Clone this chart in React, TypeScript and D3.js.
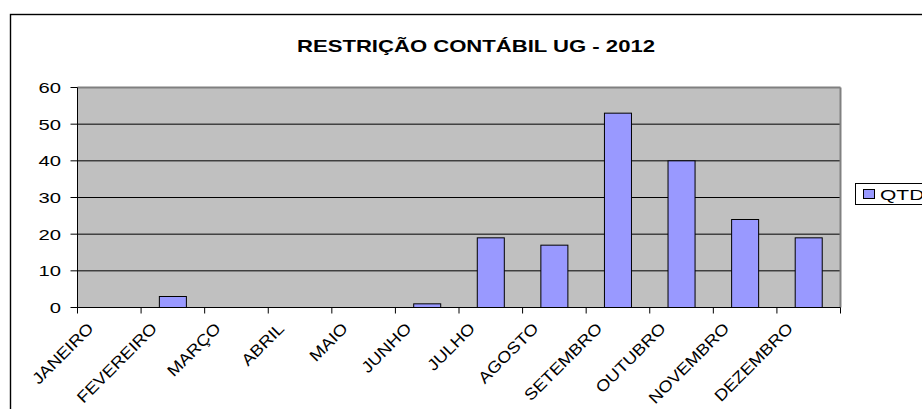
import React from "react";
import * as d3 from "d3";

const months = ["JANEIRO","FEVEREIRO","MARÇO","ABRIL","MAIO","JUNHO","JULHO","AGOSTO","SETEMBRO","OUTUBRO","NOVEMBRO","DEZEMBRO"];
const qtd = [0, 3, 0, 0, 0, 1, 19, 17, 53, 40, 24, 19];
const yTicks = [0, 10, 20, 30, 40, 50, 60];
const title = "RESTRIÇÃO CONTÁBIL UG - 2012";
const seriesName = "QTD";

const W = 922, H = 409;
const plotL = 77.5, plotR = 840.5, plotT = 87.5, plotB = 307.5;

export default function App() {
  const band = d3.scaleBand<string>().domain(months).range([plotL, plotR]).padding(0);
  const x = d3.scaleBand<string>().domain(months).range([plotL, plotR]).paddingInner(0.575).paddingOuter(0.2875);
  const y = d3.scaleLinear().domain([0, 60]).range([plotB, plotT]);
  const font = "'Liberation Sans', Arial, sans-serif";
  const boundaries = [...months.map((m) => band(m) as number), plotR];
  return (
    <svg width={W} height={H} style={{ position: "absolute", left: 0, top: 0 }} fontFamily={font}>
      <rect x={0} y={0} width={W} height={H} fill="#fff" />
      <rect x={10.5} y={14.5} width={1000} height={600} fill="#fff" stroke="#000" strokeWidth={1.4} />
      <text x={(297 + 655) / 2} y={51.5} textAnchor="middle" fontSize={17} fontWeight="bold" textLength={358} lengthAdjust="spacingAndGlyphs">{title}</text>
      <rect x={plotL} y={plotT} width={plotR - plotL} height={plotB - plotT} fill="#C0C0C0" />
      {yTicks.filter((t) => t > 0 && t < 60).map((t) => (
        <line key={t} x1={plotL} x2={plotR} y1={y(t)} y2={y(t)} stroke="#000" strokeWidth={1} />
      ))}
      <line x1={plotL} x2={plotR} y1={plotT} y2={plotT} stroke="#808080" strokeWidth={2} />
      <line x1={plotR} x2={plotR} y1={plotT} y2={plotB} stroke="#808080" strokeWidth={2} />
      {months.map((m, i) => (
        qtd[i] > 0 ? (
          <rect key={m} x={x(m)} y={y(qtd[i])} width={x.bandwidth()} height={y(0) - y(qtd[i])} fill="#9999FF" stroke="#000" strokeWidth={1} />
        ) : null
      ))}
      <line x1={plotL} x2={plotL} y1={plotT} y2={plotB} stroke="#000" strokeWidth={1} />
      <line x1={plotL} x2={plotR} y1={plotB} y2={plotB} stroke="#000" strokeWidth={1} />
      {yTicks.map((t) => (
        <g key={t}>
          <line x1={plotL - 7} x2={plotL} y1={y(t)} y2={y(t)} stroke="#000" />
          <text transform={`translate(61,${y(t) + 5.5}) scale(1.35,1)`} textAnchor="end" fontSize={15}>{t}</text>
        </g>
      ))}
      {boundaries.map((b, i) => (
        <line key={i} x1={b} x2={b} y1={plotB} y2={plotB + 6} stroke="#000" />
      ))}
      {months.map((m) => (
        <text key={m} transform={`translate(${(band(m) as number) + 17},${plotB + 22}) rotate(-45) scale(1.14,1)`} textAnchor="end" fontSize={16}>{m}</text>
      ))}
      <rect x={855.5} y={183.5} width={100} height={21} fill="#fff" stroke="#000" strokeWidth={1} />
      <rect x={863.5} y={189.5} width={11} height={9} fill="#9999FF" stroke="#000" strokeWidth={1} />
      <text transform={`translate(880,199.5) scale(1.4,1)`} fontSize={15}>{seriesName}</text>
    </svg>
  );
}
